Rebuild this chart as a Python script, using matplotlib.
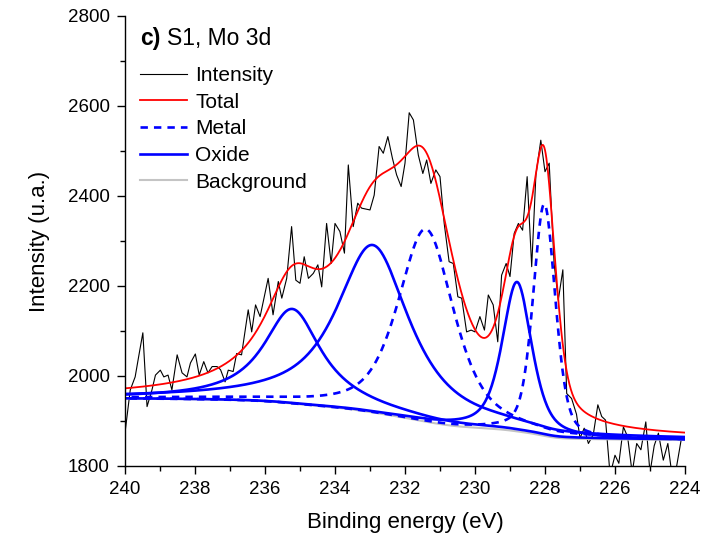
import numpy as np
import matplotlib

matplotlib.use("Agg")
from matplotlib import pyplot as plt
from matplotlib.ticker import MultipleLocator

plt.rcParams["font.family"] = ["Liberation Sans", "DejaVu Sans"]

energy = [
    239.99, 239.85, 239.71, 239.61, 239.49, 239.37, 239.23, 239.13, 238.99, 238.89,
    238.77, 238.66, 238.51, 238.37, 238.23, 238.13, 237.99, 237.88, 237.75, 237.63,
    237.51, 237.37, 237.27, 237.14, 237.05, 236.91, 236.81, 236.67, 236.48, 236.38,
    236.27, 236.14, 235.91, 235.77, 235.62, 235.52, 235.38, 235.24, 235.12, 235.00,
    234.88, 234.76, 234.62, 234.49, 234.38, 234.24, 234.11, 234.00, 233.86, 233.73,
    233.62, 233.48, 233.35, 233.24, 233.00, 232.88, 232.74, 232.62, 232.49, 232.36,
    232.24, 232.11, 232.00, 231.88, 231.76, 231.62, 231.49, 231.38, 231.26, 231.12,
    231.00, 230.88, 230.74, 230.62, 230.49, 230.38, 230.24, 230.11, 230.00, 229.86,
    229.73, 229.62, 229.48, 229.35, 229.24, 229.11, 229.00, 228.88, 228.76, 228.64,
    228.51, 228.38, 228.26, 228.12, 228.00, 227.88, 227.74, 227.62, 227.49, 227.38,
    227.24, 227.10, 227.00, 226.88, 226.76, 226.62, 226.49, 226.38, 226.27, 226.14,
    226.00, 225.89, 225.76, 225.64, 225.51, 225.38, 225.26, 225.12, 225.00, 224.88,
    224.76, 224.62, 224.49, 224.38, 224.26, 224.11,
]
intensity = [
    1880, 1969, 1998, 2043, 2096, 1932, 1969, 2002, 2013, 1998,
    2002, 1969, 2047, 2007, 1998, 2029, 2049, 2002, 2032, 2007,
    2021, 2021, 2014, 1987, 2013, 2010, 2050, 2047, 2147, 2098,
    2158, 2132, 2217, 2136, 2210, 2173, 2217, 2332, 2213, 2206,
    2265, 2217, 2228, 2247, 2198, 2339, 2250, 2339, 2321, 2273,
    2469, 2332, 2384, 2373, 2369, 2402, 2510, 2495, 2532, 2484,
    2447, 2421, 2473, 2585, 2569, 2491, 2450, 2480, 2428, 2458,
    2443, 2339, 2254, 2250, 2176, 2173, 2098, 2102, 2098, 2132,
    2102, 2180, 2158, 2076, 2224, 2250, 2221, 2317, 2339, 2324,
    2443, 2243, 2447, 2524, 2454, 2473, 2250, 2169, 2236, 1961,
    1950, 1915, 1862, 1884, 1850, 1870, 1936, 1910, 1902, 1780,
    1824, 1806, 1887, 1865, 1785, 1850, 1836, 1898, 1785, 1845,
    1873, 1813, 1850, 1785, 1790, 1858,
]

# fitted components
peak_kind = ["Oxide", "Oxide", "Metal", "Oxide", "Metal"]
peak_center = [235.22, 232.92, 231.40, 228.80, 228.02]
peak_height = [210, 372, 428, 332, 515]
peak_fwhm = [2.00, 2.50, 1.90, 1.00, 0.75]
peak_lorentz = [1.0, 0.9, 0.6, 0.6, 0.4]
bg_high = 1950
bg_low = 1858

BLUE = "#0000ff"
RED = "#ff0000"
GRAY = "#c4c4c4"
DASH = (0, (2.8, 2.3))


def pseudo_voigt(x, center, height, fwhm, eta):
    d = (x - center) / (fwhm / 2)
    lor = 1 / (1 + d ** 2)
    gau = np.exp(-np.log(2) * d ** 2)
    return height * (eta * lor + (1 - eta) * gau)


grid = np.linspace(224, 240, 801)
peaks = [pseudo_voigt(grid, c, h, w, e)
         for c, h, w, e in zip(peak_center, peak_height, peak_fwhm, peak_lorentz)]
peak_sum = np.sum(peaks, axis=0)
# Shirley-type step: cumulative area from the low binding energy side
area = np.concatenate([[0], np.cumsum((peak_sum[1:] + peak_sum[:-1]) / 2)])
background = bg_low + (bg_high - bg_low) * area / area[-1]
total = background + peak_sum

fig = plt.figure(figsize=(7.25, 5.43), dpi=100)
ax = fig.add_axes([125 / 725, 1 - 466 / 543, 560 / 725, 450 / 543])

ax.plot(energy, intensity, color="black", lw=0.8)
ax.plot(grid, background, color=GRAY, lw=1.5)
for kind, p in zip(peak_kind, peaks):
    ax.plot(grid, background + p, color=BLUE, lw=1.9,
            ls=DASH if kind == "Metal" else "-")
ax.plot(grid, total, color=RED, lw=1.3)

ax.set_xlim(240, 224)
ax.set_ylim(1800, 2800)
ax.xaxis.set_major_locator(MultipleLocator(2))
ax.xaxis.set_minor_locator(MultipleLocator(1))
ax.yaxis.set_major_locator(MultipleLocator(200))
ax.yaxis.set_minor_locator(MultipleLocator(100))
ax.tick_params(which="both", direction="out", width=1, labelsize=13.5, colors="black")
ax.tick_params(which="major", length=6, pad=5)
ax.tick_params(which="minor", length=3.5)
ax.spines["top"].set_visible(False)
ax.spines["right"].set_visible(False)
ax.spines["left"].set_linewidth(1)
ax.spines["bottom"].set_linewidth(1)
ax.set_xlabel("Binding energy (eV)", fontsize=16, labelpad=10)
ax.set_ylabel("Intensity (u.a.)", fontsize=16, labelpad=13)

ax.text(0.027, 0.951, "c)", transform=ax.transAxes, fontsize=16.5,
        fontweight="bold", va="center", ha="left")
ax.text(0.075, 0.951, "S1, Mo 3d", transform=ax.transAxes, fontsize=16.5,
        va="center", ha="left")

handles = [
    plt.Line2D([], [], color="black", lw=0.8),
    plt.Line2D([], [], color=RED, lw=1.3),
    plt.Line2D([], [], color=BLUE, lw=1.9, ls=DASH),
    plt.Line2D([], [], color=BLUE, lw=1.9),
    plt.Line2D([], [], color=GRAY, lw=1.5),
]
labels = ["Intensity", "Total", "Metal", "Oxide", "Background"]
ax.legend(handles, labels, loc="upper left", bbox_to_anchor=(0.027, 0.889),
          frameon=False, fontsize=15, borderpad=0, borderaxespad=0,
          handlelength=2.25, handletextpad=0.4, labelspacing=0.37)

fig.savefig("out.png", dpi=100)
